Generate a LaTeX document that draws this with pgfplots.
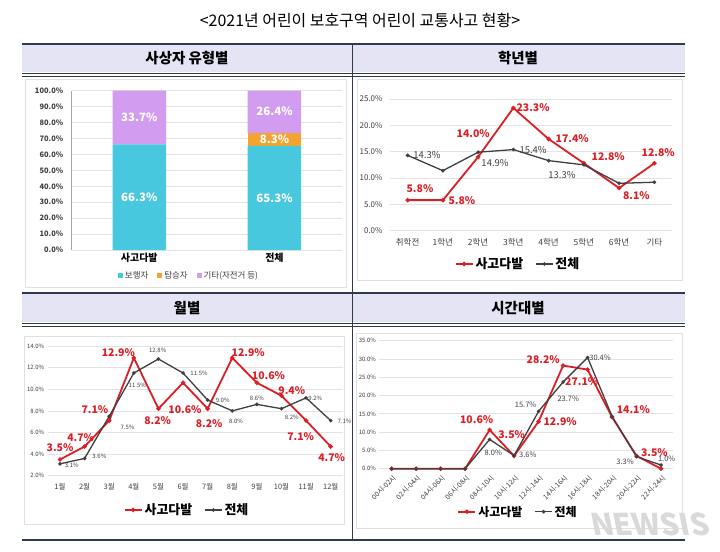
\documentclass[border=0pt]{standalone}
\usepackage{pgfplots}
\pgfplotsset{compat=1.18}
\usepackage{fontspec}
\setmainfont{Noto Sans CJK KR}
\definecolor{navy}{HTML}{2E3B4E}
\definecolor{hdr}{HTML}{E4E4F4}
\definecolor{gridc}{HTML}{E3E3E3}
\definecolor{tickc}{HTML}{404040}
\definecolor{redc}{HTML}{DC1F26}
\definecolor{grayc}{HTML}{404040}
\definecolor{cyanc}{HTML}{47C8DE}
\definecolor{orangec}{HTML}{F3A32F}
\definecolor{lavc}{HTML}{D29CF0}
\definecolor{boxc}{HTML}{E0E0E0}
\newcommand{\fs}[1]{\fontsize{#1}{#1}\selectfont}
\pgfplotsset{
  base/.style={scale only axis, major tick length=0pt, axis line style={draw=none},
    ymajorgrids, grid style={draw=gridc,line width=0.7bp}, tick label style={text=tickc},
    /pgf/number format/assume math mode=true, clip=false},
  linelegend/.style={legend style={draw=none, fill=none, legend columns=2, anchor=center,
    font=\bfseries\fs{13}, text=black, /tikz/every even column/.append style={column sep=10bp}}},
  redline/.style={draw=redc, line width=1.8bp, mark=*, mark size=1.2bp, mark options={fill=redc,draw=redc}},
  grayline/.style={draw=grayc, line width=1.3bp, mark=*, mark size=1.1bp, mark options={fill=grayc,draw=grayc}},
}
\tikzset{
  rl/.style={text=redc, font=\bfseries\fs{10.5}, inner sep=0pt},
  gl/.style={text=grayc, font=\fs{9.5}, inner sep=0pt},
}
\begin{document}
\begin{tikzpicture}
\useasboundingbox (0,0) rectangle (720bp,-552bp);
\fill[white] (0,0) rectangle (720bp,-552bp);
% title
\node[font=\fs{16}] at (360bp,-20bp) {<2021년 어린이 보호구역 어린이 교통사고 현황>};
% header bands
\fill[hdr] (22bp,-45bp) rectangle (685bp,-72bp);
\fill[hdr] (22bp,-294bp) rectangle (685bp,-322bp);
\draw[navy,line width=2.5bp] (22bp,-44bp) -- (685bp,-44bp);
\draw[navy,line width=0.8bp] (22bp,-73bp) -- (685bp,-73bp);
\draw[navy,line width=0.8bp] (22bp,-76.5bp) -- (685bp,-76.5bp);
\draw[navy,line width=2.5bp] (22bp,-293bp) -- (685bp,-293bp);
\draw[navy,line width=0.8bp] (22bp,-323bp) -- (685bp,-323bp);
\draw[navy,line width=0.8bp] (22bp,-326.5bp) -- (685bp,-326.5bp);
\draw[navy,line width=2bp] (22bp,-540bp) -- (685bp,-540bp);
\draw[navy,line width=0.8bp] (352bp,-44bp) -- (352bp,-540bp);
\node[font=\bfseries\fs{14.5}] at (187bp,-58bp) {사상자 유형별};
\node[font=\bfseries\fs{14.5}] at (518bp,-58bp) {학년별};
\node[font=\bfseries\fs{14.5}] at (187bp,-308bp) {월별};
\node[font=\bfseries\fs{14.5}] at (518bp,-308bp) {시간대별};
% chart boxes
\draw[boxc,line width=0.6bp] (25bp,-79bp) rectangle (346bp,-287bp);
\draw[boxc,line width=0.6bp] (357bp,-79bp) rectangle (682bp,-280bp);
\draw[boxc,line width=0.6bp] (24bp,-336bp) rectangle (344bp,-524bp);
\draw[boxc,line width=0.6bp] (356bp,-333bp) rectangle (682bp,-528bp);

% ---------- Panel 1: stacked bars
\begin{axis}[base, at={(71.7bp,-250bp)}, anchor=south west, width=270.3bp, height=159.3bp,
  ybar stacked, bar width=53.5bp, xmin=-0.5, xmax=1.5, ymin=0, ymax=100,
  xtick={0,1}, xticklabels={사고다발,전체},
  ytick={0,10,20,30,40,50,60,70,80,90,100},
  yticklabels={0.0\%,10.0\%,20.0\%,30.0\%,40.0\%,50.0\%,60.0\%,70.0\%,80.0\%,90.0\%,100.0\%},
  yticklabel style={font=\bfseries\fs{7.5}, xshift=-5bp},
  xticklabel style={font=\bfseries\fs{10}, text=black},
  legend style={at={(0.434,-0.163)}, anchor=center, draw=none, fill=none, legend columns=3,
    font=\fs{8.5}, text=tickc, /tikz/every even column/.append style={column sep=7bp}},
  legend image code/.code={\fill[#1] (0bp,-2.5bp) rectangle (5bp,2.5bp);},
]
\addplot[fill=cyanc, draw=none] coordinates {(0,66.3) (1,65.3)};
\addplot[fill=orangec, draw=none] coordinates {(0,0) (1,8.3)};
\addplot[fill=lavc, draw=none] coordinates {(0,33.7) (1,26.4)};
\legend{보행자,탑승자,기타(자전거 등)}
\draw[gray!70, line width=1.2bp] (rel axis cs:0,0) -- (rel axis cs:0,1);
\end{axis}
% overlay axis for bar value labels
\begin{axis}[scale only axis, hide axis, clip=false, at={(71.7bp,-250bp)}, anchor=south west,
  width=270.3bp, height=159.3bp, xmin=-0.5, xmax=1.5, ymin=0, ymax=100]
\addplot[draw=none, forget plot] coordinates {(0,0) (1,100)};
\node[text=white, font=\bfseries\fs{11.5}] at (axis cs:0,33.1) {66.3\%};
\node[text=white, font=\bfseries\fs{11.5}] at (axis cs:0,83.2) {33.7\%};
\node[text=white, font=\bfseries\fs{11.5}] at (axis cs:1,32.7) {65.3\%};
\node[text=white, font=\bfseries\fs{11.5}] at (axis cs:1,69.6) {8.3\%};
\node[text=white, font=\bfseries\fs{11.5}] at (axis cs:1,86.8) {26.4\%};
\end{axis}

% ---------- Panel 2: by grade
\begin{axis}[base, linelegend, at={(390bp,-230.7bp)}, anchor=south west, width=282bp, height=131.7bp,
  xmin=-0.5, xmax=7.5, ymin=0, ymax=25,
  xtick={0,1,2,3,4,5,6,7}, xticklabels={취학전,1학년,2학년,3학년,4학년,5학년,6학년,기타},
  ytick={0,5,10,15,20,25}, yticklabels={0.0\%,5.0\%,10.0\%,15.0\%,20.0\%,25.0\%},
  yticklabel style={font=\fs{8}, xshift=-4bp},
  xticklabel style={font=\fs{8.5}, yshift=-4bp},
  legend style={at={(0.454,-0.253)}},
]
\addplot[redline] coordinates {(0,5.8) (1,5.8) (2,14.0) (3,23.3) (4,17.4) (5,12.8) (6,8.1) (7,12.8)};
\addplot[grayline] coordinates {(0,14.3) (1,11.4) (2,14.9) (3,15.4) (4,13.3) (5,12.5) (6,9.0) (7,9.2)};
\legend{사고다발,전체}
\node[rl] at (axis cs:0.35,7.9) {5.8\%};
\node[rl] at (axis cs:1.54,5.8) {5.8\%};
\node[rl] at (axis cs:1.86,18.5) {14.0\%};
\node[rl] at (axis cs:3.56,23.3) {23.3\%};
\node[rl] at (axis cs:4.67,17.4) {17.4\%};
\node[rl] at (axis cs:5.69,14.0) {12.8\%};
\node[rl] at (axis cs:6.49,6.6) {8.1\%};
\node[rl] at (axis cs:7.11,14.9) {12.8\%};
\node[gl] at (axis cs:0.55,14.4) {14.3\%};
\node[gl] at (axis cs:2.48,12.9) {14.9\%};
\node[gl] at (axis cs:3.56,15.3) {15.4\%};
\node[gl] at (axis cs:4.38,10.6) {13.3\%};
\end{axis}

% ---------- Panel 3: by month
\begin{axis}[base, linelegend, at={(47.7bp,-475.7bp)}, anchor=south west, width=295.3bp, height=129.7bp,
  xmin=-0.5, xmax=11.5, ymin=2, ymax=14,
  xtick={0,...,11}, xticklabels={1월,2월,3월,4월,5월,6월,7월,8월,9월,10월,11월,12월},
  ytick={2,4,6,8,10,12,14}, yticklabels={2.0\%,4.0\%,6.0\%,8.0\%,10.0\%,12.0\%,14.0\%},
  yticklabel style={font=\fs{6}},
  xticklabel style={font=\fs{7.5}, yshift=-4bp},
  legend style={at={(0.472,-0.264)}},
]
\addplot[redline] coordinates {(0,3.5) (1,4.7) (2,7.1) (3,12.9) (4,8.2) (5,10.6) (6,8.2) (7,12.9) (8,10.6) (9,9.4) (10,7.1) (11,4.7)};
\addplot[grayline] coordinates {(0,3.1) (1,3.6) (2,7.5) (3,11.5) (4,12.8) (5,11.5) (6,9.0) (7,8.0) (8,8.6) (9,8.2) (10,9.2) (11,7.1)};
\legend{사고다발,전체}
\node[rl] at (axis cs:0,4.63) {3.5\%};
\node[rl] at (axis cs:0.84,5.55) {4.7\%};
\node[rl] at (axis cs:1.42,8.14) {7.1\%};
\node[rl] at (axis cs:2.37,13.38) {12.9\%};
\node[rl] at (axis cs:3.97,7.09) {8.2\%};
\node[rl] at (axis cs:5.08,8.08) {10.6\%};
\node[rl] at (axis cs:6.06,6.78) {8.2\%};
\node[rl] at (axis cs:7.65,13.38) {12.9\%};
\node[rl] at (axis cs:8.47,11.25) {10.6\%};
\node[rl] at (axis cs:9.42,9.84) {9.4\%};
\node[rl] at (axis cs:9.78,5.61) {7.1\%};
\node[rl] at (axis cs:11.04,3.67) {4.7\%};
\node[gl,font=\fs{6}] at (axis cs:0.48,2.99) {3.1\%};
\node[gl,font=\fs{6}] at (axis cs:1.6,3.76) {3.6\%};
\node[gl,font=\fs{6}] at (axis cs:2.74,6.48) {7.5\%};
\node[gl,font=\fs{6}] at (axis cs:3.14,10.39) {11.5\%};
\node[gl,font=\fs{6}] at (axis cs:3.97,13.56) {12.8\%};
\node[gl,font=\fs{6}] at (axis cs:5.65,11.47) {11.5\%};
\node[gl,font=\fs{6}] at (axis cs:6.61,8.94) {9.0\%};
\node[gl,font=\fs{6}] at (axis cs:7.15,7.0) {8.0\%};
\node[gl,font=\fs{6}] at (axis cs:8.0,9.16) {8.6\%};
\node[gl,font=\fs{6}] at (axis cs:9.42,7.4) {8.2\%};
\node[gl,font=\fs{6}] at (axis cs:10.37,9.16) {9.2\%};
\node[gl,font=\fs{6}] at (axis cs:11.56,7.0) {7.1\%};
\end{axis}

% ---------- Panel 4: by time
\begin{axis}[base, linelegend, at={(379.4bp,-468.7bp)}, anchor=south west, width=293.9bp, height=128bp,
  xmin=-0.5, xmax=11.5, ymin=0, ymax=35,
  xtick={0,...,11},
  xticklabels={00시-02시,02시-04시,04시-06시,06시-08시,08시-10시,10시-12시,12시-14시,14시-16시,16시-18시,18시-20시,20시-22시,22시-24시},
  ytick={0,5,10,15,20,25,30,35}, yticklabels={0.0\%,5.0\%,10.0\%,15.0\%,20.0\%,25.0\%,30.0\%,35.0\%},
  yticklabel style={font=\fs{6}},
  xticklabel style={font=\fs{7}, rotate=45, anchor=north east, yshift=-1bp},
  legend style={at={(0.472,-0.336)}, font=\bfseries\fs{12}},
]
\addplot[redline] coordinates {(0,0) (1,0) (2,0) (3,0) (4,10.6) (5,3.5) (6,12.9) (7,28.2) (8,27.1) (9,14.1) (10,3.5) (11,0)};
\addplot[grayline] coordinates {(0,0) (1,0) (2,0) (3,0) (4,8.0) (5,3.6) (6,15.7) (7,23.7) (8,30.4) (9,14.3) (10,3.3) (11,1.0)};
\legend{사고다발,전체}
\node[rl] at (axis cs:3.47,13.5) {10.6\%};
\node[rl] at (axis cs:4.9,9.4) {3.5\%};
\node[rl] at (axis cs:6.88,13.0) {12.9\%};
\node[rl] at (axis cs:6.19,29.7) {28.2\%};
\node[rl] at (axis cs:7.76,23.8) {27.1\%};
\node[rl] at (axis cs:9.87,16.2) {14.1\%};
\node[rl] at (axis cs:10.73,4.4) {3.5\%};
\node[gl,font=\fs{7.5}] at (axis cs:4.15,4.4) {8.0\%};
\node[gl,font=\fs{7.5}] at (axis cs:5.56,3.7) {3.6\%};
\node[gl,font=\fs{7.5}] at (axis cs:5.47,17.4) {15.7\%};
\node[gl,font=\fs{7.5}] at (axis cs:7.21,19.1) {23.7\%};
\node[gl,font=\fs{7.5}] at (axis cs:8.51,30.4) {30.4\%};
\node[gl,font=\fs{7.5}] at (axis cs:9.53,1.9) {3.3\%};
\node[gl,font=\fs{7.5}] at (axis cs:11.23,2.8) {1.0\%};
\end{axis}
% watermark
\node[text=gray!30, font=\bfseries\fs{30}, xslant=-0.2] at (650bp,-524bp) {NEWSIS};
\end{tikzpicture}
\end{document}
